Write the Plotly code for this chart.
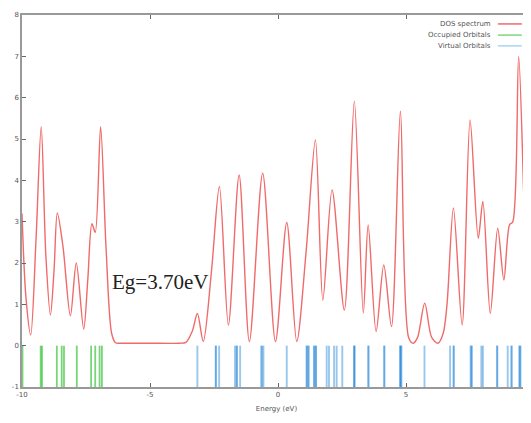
import plotly.graph_objects as go

# DOS spectrum (peaks, valleys, shoulders)
dos_energy = [-10.0, -9.85, -9.66, -9.45, -9.25, -9.07, -8.89, -8.75, -8.62, -8.4,
              -8.11, -7.88, -7.59, -7.43, -7.27, -7.14, -6.93, -6.72, -6.5, -6.35,
              -6.1, -5.0, -3.85, -3.6, -3.35, -3.15, -2.92, -2.6, -2.29, -1.94,
              -1.52, -1.12, -0.6, -0.1, 0.34, 0.73, 1.1, 1.46, 1.75, 2.11,
              2.59, 2.98, 3.33, 3.52, 3.83, 4.13, 4.43, 4.78, 5.1, 5.28,
              5.45, 5.73, 6.0, 6.25, 6.45, 6.6, 6.85, 7.19, 7.5, 7.82,
              8.0, 8.29, 8.58, 8.82, 9.04, 9.17, 9.4, 9.73, 9.88]
dos_value = [3.2, 1.2, 0.26, 2.6, 5.3, 2.2, 0.74, 1.8, 3.21, 2.4,
             0.72, 2.0, 0.4, 1.6, 2.95, 2.74, 5.3, 2.4, 0.3, 0.07,
             0.06, 0.06, 0.06, 0.08, 0.35, 0.78, 0.1, 1.8, 3.85, 0.5,
             4.13, 0.1, 4.17, 0.1, 2.98, 0.1, 2.3, 4.98, 1.1, 3.77,
             0.86, 5.91, 0.79, 2.92, 0.34, 1.95, 0.46, 5.67, 0.2, 0.06,
             0.2, 1.03, 0.2, 0.06, 0.3, 1.0, 3.33, 0.5, 5.46, 2.6,
             3.49, 0.78, 2.84, 1.59, 2.92, 3.0, 7.0, 1.67, 3.0]

# Orbital energies (eV); repeated values are (near-)degenerate levels
occupied_levels = [-9.98, -9.27, -9.22, -8.64, -8.45, -8.36, -7.86, -7.30, -7.14, -6.97, -6.88]
virtual_levels = [-3.15, -2.43, -2.43, -2.30, -1.68, -1.61, -1.61, -1.48,
                  -0.66, -0.62, -0.57, 0.34, 1.12, 1.12, 1.19, 1.19,
                  1.41, 1.41, 1.48, 1.48, 1.90, 1.99, 2.19, 2.29, 2.51,
                  2.98, 2.98, 2.98, 3.53, 3.53, 4.15, 4.15, 4.78, 4.78, 4.78, 4.82,
                  5.72, 6.72, 6.86, 6.86, 7.52, 7.55, 7.57, 7.94, 8.0,
                  8.56, 8.56, 8.97, 9.12, 9.12, 9.42, 9.45, 9.47, 9.75, 9.75]

y_ticks = [-1, 0, 1, 2, 3, 4, 5, 6, 7, 8]
x_ticks = [-10, -5, 0, 5]

RED = "#f06a6a"
GREEN = "rgba(60,195,60,0.7)"
BLUE = "rgba(30,130,215,0.45)"
LEGEND_BLUE = "#a8d4f2"

fig = go.Figure()

for e in occupied_levels:
    fig.add_trace(go.Scatter(x=[e, e], y=[-1, 0], mode="lines",
                             line=dict(color=GREEN, width=1.8),
                             showlegend=False, hoverinfo="skip"))
for e in virtual_levels:
    fig.add_trace(go.Scatter(x=[e, e], y=[-1, 0], mode="lines",
                             line=dict(color=BLUE, width=1.9),
                             showlegend=False, hoverinfo="skip"))

fig.add_trace(go.Scatter(x=dos_energy, y=dos_value, mode="lines",
                         line=dict(color=RED, width=1.4, shape="spline", smoothing=0.85),
                         showlegend=False, name="DOS spectrum"))

tick_font = dict(family="DejaVu Sans", size=7, color="#555")

# page body has an 8px margin, so the figure is sized to fit the 531x423 window
fig.update_layout(
    width=523, height=415,
    margin=dict(l=14, r=0, t=7, b=36),
    paper_bgcolor="white", plot_bgcolor="white",
    xaxis=dict(range=[-10, 9.88], tickvals=x_ticks, ticktext=[str(v) for v in x_ticks],
               ticks="inside", ticklen=4, tickcolor="#666", showgrid=False, zeroline=False,
               showline=True, linecolor="#999", linewidth=1.5, mirror="ticks",
               tickfont=tick_font, automargin=False,
               title=dict(text="Energy (eV)", font=dict(family="DejaVu Sans", size=7, color="#555"),
                          standoff=8)),
    yaxis=dict(range=[-1, 8], tickvals=y_ticks, ticktext=[str(v) for v in y_ticks],
               ticks="inside", ticklen=4, tickcolor="#666", showgrid=False, zeroline=False,
               showline=True, linecolor="#999", linewidth=1.5, automargin=False,
               tickfont=tick_font),
)

fig.add_annotation(x=-4.62, y=1.55, xref="x", yref="y", text="Eg=3.70eV", showarrow=False,
                   font=dict(family="Liberation Serif", size=21, color="#222"))

# gnuplot-style key: text right-aligned, sample line on the right
legend_entries = [("DOS spectrum", RED), ("Occupied Orbitals", "#7fd67f"), ("Virtual Orbitals", LEGEND_BLUE)]
legend_rows = [0.976, 0.946, 0.917]
for (label, col), yy in zip(legend_entries, legend_rows):
    fig.add_annotation(x=0.925, y=yy, xref="paper", yref="paper", text=label, showarrow=False,
                       xanchor="right", yanchor="middle",
                       font=dict(family="DejaVu Sans", size=7, color="#555"))
    fig.add_shape(type="line", xref="paper", yref="paper", x0=0.935, x1=0.982, y0=yy, y1=yy,
                  line=dict(color=col, width=1.5))

fig.write_html("out.html")
